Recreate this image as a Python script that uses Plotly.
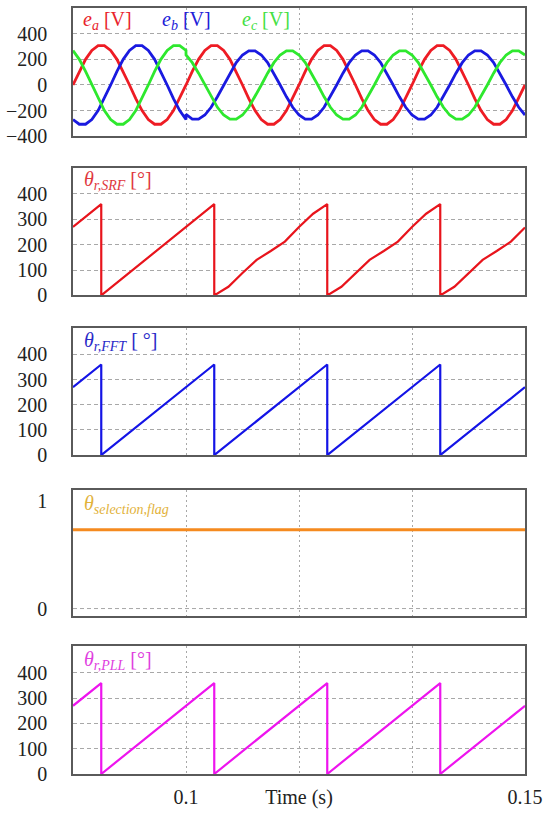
import numpy as np
import plotly.graph_objects as go
from plotly.subplots import make_subplots

# ---------------- data ----------------
T0, T_DIST, T_END = 0.083333, 0.1, 0.15

# phase voltages sampled every 20 electrical degrees (60 Hz)
ea_vals = [0, 106, 200, 269, 306, 306, 269, 200, 106, 0, -106, -200, -269, -306, -306, -269, -200, -106,
           0, 106, 200, 269, 306, 306, 269, 200, 106, 0, -106, -200, -269, -306, -306, -269, -200, -106,
           0, 106, 200, 269, 306, 306, 269, 200, 106, 0, -106, -200, -269, -306, -306, -269, -200, -106,
           0, 106, 200, 269, 306, 306, 269, 200, 106, 0, -106, -200, -269, -306, -306, -269, -200, -106,
           0]
eb_before = [-269, -306, -306, -269, -200, -106, 0, 106, 200, 269, 306, 306, 269, 200, 106, 0, -106, -200, -269]
eb_after = [-228, -266, -266, -234, -174, -92, 0, 92, 174, 234, 266, 266, 234, 174, 92, 0, -92, -174, -234,
            -266, -266, -234, -174, -92, 0, 92, 174, 234, 266, 266, 234, 174, 92, 0, -92, -174, -234,
            -266, -266, -234, -174, -92, 0, 92, 174, 234, 266, 266, 234, 174, 92, 0, -92, -174, -234]
ec_before = [269, 200, 106, 0, -106, -200, -269, -306, -306, -269, -200, -106, 0, 106, 200, 269, 306, 306, 269]
ec_after = [234, 174, 92, 0, -92, -174, -234, -266, -266, -234, -174, -92, 0, 92, 174, 234, 266, 266, 234,
            174, 92, 0, -92, -174, -234, -266, -266, -234, -174, -92, 0, 92, 174, 234, 266, 266, 234,
            174, 92, 0, -92, -174, -234, -266, -266, -234, -174, -92, 0, 92, 174, 234, 266, 266, 234]

t_all = np.linspace(T0, T_END, len(ea_vals))
t_before = np.linspace(T0, T_DIST, len(eb_before))
t_after = np.linspace(T_DIST, T_END, len(eb_after))

# SRF-PLL angle (with ripple after the unbalance)
srf_t = [0.083333, 0.0875, 0.0875, 0.104167, 0.104167, 0.10625, 0.10833, 0.11042, 0.1125, 0.11458, 0.11667,
         0.11875, 0.120833, 0.120833, 0.12292, 0.125, 0.12708, 0.12917, 0.13125, 0.13333, 0.13542, 0.1375,
         0.1375, 0.13958, 0.14167, 0.14375, 0.14583, 0.14792, 0.15]
srf_v = [270, 360, 0, 360, 0, 34, 88, 140, 175, 212, 270,
         322, 360, 0, 34, 88, 140, 175, 212, 270,
         322, 360, 0, 34, 88, 140, 175, 212, 268]

# FFT and PLL angles (clean sawtooth)
saw_t = [0.083333, 0.0875, 0.0875, 0.104167, 0.104167, 0.120833, 0.120833, 0.1375, 0.1375, 0.15]
fft_v = [270, 360, 0, 360, 0, 360, 0, 360, 0, 270]
pll_v = [270, 360, 0, 360, 0, 360, 0, 360, 0, 270]

flag_t = [0.083333, 0.15]
flag_v = [0.73, 0.73]

x_ticks = [0.1, 0.116667, 0.133333, 0.15]
x_ticktext = ["0.1", "Time (s)", "", "0.15"]
y_ticks_e = [-400, -200, 0, 200, 400]
y_ticks_th = [0, 100, 200, 300, 400]
y_ticks_flag = [0, 1]

# ---------------- figure ----------------
RED, BLUE, GREEN = "#ee1c24", "#1a1ae0", "#2ee82e"
ORANGE, MAGENTA = "#f58a1f", "#ee14ee"
SERIF = "Liberation Serif, Times New Roman, serif"

fig = make_subplots(rows=5, cols=1, shared_xaxes=False)

fig.add_trace(go.Scatter(x=t_all, y=ea_vals, mode="lines", line=dict(color=RED, width=2.8)), row=1, col=1)
fig.add_trace(go.Scatter(x=np.concatenate([t_before, t_after]), y=eb_before + eb_after, mode="lines",
                         line=dict(color=BLUE, width=2.8)), row=1, col=1)
fig.add_trace(go.Scatter(x=np.concatenate([t_before, t_after]), y=ec_before + ec_after, mode="lines",
                         line=dict(color=GREEN, width=2.8)), row=1, col=1)
fig.add_trace(go.Scatter(x=srf_t, y=srf_v, mode="lines", line=dict(color="#e8141c", width=2.2)), row=2, col=1)
fig.add_trace(go.Scatter(x=saw_t, y=fft_v, mode="lines", line=dict(color="#1414e6", width=2.2)), row=3, col=1)
fig.add_trace(go.Scatter(x=flag_t, y=flag_v, mode="lines", line=dict(color=ORANGE, width=3)), row=4, col=1)
fig.add_trace(go.Scatter(x=saw_t, y=pll_v, mode="lines", line=dict(color=MAGENTA, width=2.2)), row=5, col=1)

domains = [[0.8325, 1.0], [0.6248, 0.7917], [0.4163, 0.5819], [0.2067, 0.371], [0.0, 0.1669]]
yranges = [[-400, 600], [0, 504], [0, 504], [-0.066, 1.1], [0, 506]]
yticks = [y_ticks_e, y_ticks_th, y_ticks_th, y_ticks_flag, y_ticks_th]

axis_line = dict(showline=True, linecolor="#5a5a5a", linewidth=1.6, mirror=True)
for i in range(5):
    n = "" if i == 0 else str(i + 1)
    fig.layout["xaxis" + n].update(
        range=[T0, T_END], tickvals=x_ticks, ticktext=x_ticktext,
        showticklabels=(i == 4), ticks="", showgrid=True, gridcolor="#a8a8a8",
        griddash="2px,3px", gridwidth=1, zeroline=False, ticklabelstandoff=4,
        tickfont=dict(family=SERIF, size=20, color="#222"), **axis_line)
    fig.layout["yaxis" + n].update(
        domain=domains[i], range=yranges[i], tickvals=yticks[i], ticks="",
        showgrid=(i != 3), gridcolor="#a8a8a8", griddash="4px,3px", gridwidth=1,
        zeroline=False, ticklabelstandoff=20,
        tickfont=dict(family=SERIF, size=20, color="#222"), **axis_line)

# dashed grid line at 0 only in the flag panel
fig.add_shape(type="line", xref="x4 domain", yref="y4", x0=0, x1=1, y0=0, y1=0,
              line=dict(color="#a8a8a8", width=1, dash="4px,3px"), layer="below")

# panel labels
def label(text, color, x, yref, xref, yshift=-12, size=20):
    fig.add_annotation(text=text, x=x, y=1, xref=xref, yref=yref + " domain", xanchor="left",
                       yanchor="middle", yshift=yshift, showarrow=False,
                       font=dict(family=SERIF, size=size, color=color))

label("<i>e</i><sub><i>a</i></sub> [V]", "#e8232b", 0.0845, "y", "x")
label("<i>e</i><sub><i>b</i></sub> [V]", "#2020d8", 0.0962, "y", "x")
label("<i>e</i><sub><i>c</i></sub> [V]", "#44e044", 0.1080, "y", "x")
label("<i>θ</i><sub><i>r,SRF</i></sub> [°]", "#e0383e", 0.0847, "y2", "x2", yshift=-13)
label("<i>θ</i><sub><i>r,FFT</i></sub> [ °]", "#2a2ac8", 0.0847, "y3", "x3", yshift=-13)
label("<i>θ</i><sub><i>selection,flag</i></sub>", "#e2b23a", 0.0847, "y4", "x4", yshift=-15)
label("<i>θ</i><sub><i>r,PLL</i></sub> [°]", "#e040e0", 0.0847, "y5", "x5", yshift=-14)

fig.update_layout(width=549, height=815, margin=dict(l=67, r=20, t=6, b=30),
                  font=dict(family=SERIF, color="#222"),
                  paper_bgcolor="white", plot_bgcolor="white", showlegend=False)

fig.write_html("out.html")
